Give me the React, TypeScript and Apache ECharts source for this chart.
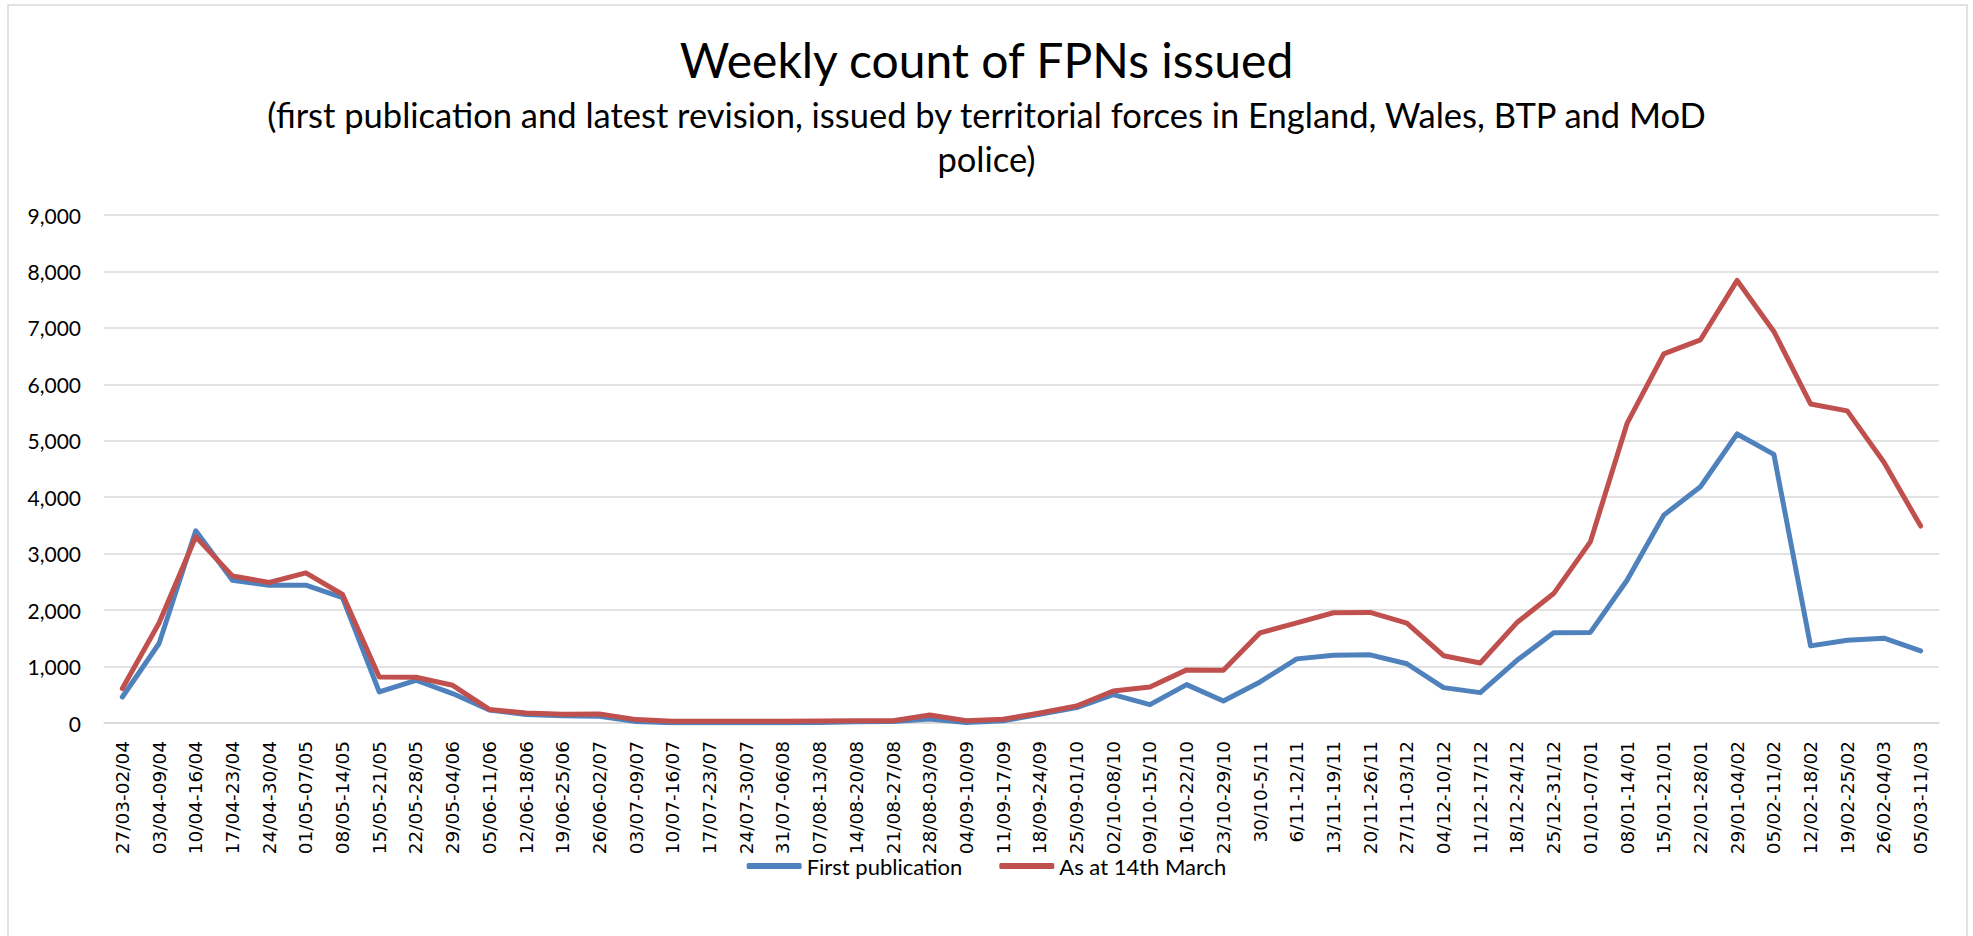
import React, { useEffect, useRef } from "react";
import * as echarts from "echarts";

const categories = [
  "27/03-02/04", "03/04-09/04", "10/04-16/04", "17/04-23/04", "24/04-30/04",
  "01/05-07/05", "08/05-14/05", "15/05-21/05", "22/05-28/05", "29/05-04/06",
  "05/06-11/06", "12/06-18/06", "19/06-25/06", "26/06-02/07", "03/07-09/07",
  "10/07-16/07", "17/07-23/07", "24/07-30/07", "31/07-06/08", "07/08-13/08",
  "14/08-20/08", "21/08-27/08", "28/08-03/09", "04/09-10/09", "11/09-17/09",
  "18/09-24/09", "25/09-01/10", "02/10-08/10", "09/10-15/10", "16/10-22/10",
  "23/10-29/10", "30/10-5/11", "6/11-12/11", "13/11-19/11", "20/11-26/11",
  "27/11-03/12", "04/12-10/12", "11/12-17/12", "18/12-24/12", "25/12-31/12",
  "01/01-07/01", "08/01-14/01", "15/01-21/01", "22/01-28/01", "29/01-04/02",
  "05/02-11/02", "12/02-18/02", "19/02-25/02", "26/02-04/03", "05/03-11/03",
];

const firstPublication = [
  461, 1408, 3404, 2530, 2441, 2441, 2223, 550, 757, 521,
  230, 150, 130, 120, 25, 5, 5, 5, 5, 10,
  20, 25, 70, 10, 40, 154, 272, 503, 325, 680,
  390, 728, 1136, 1201, 1207, 1050, 627, 538, 1111, 1598,
  1605, 2530, 3683, 4185, 5121, 4760, 1366, 1467, 1502, 1277,
];

const asAt14thMarch = [
  610, 1773, 3298, 2606, 2489, 2660, 2277, 816, 810, 668,
  240, 177, 154, 160, 60, 30, 30, 30, 30, 35,
  40, 40, 142, 40, 65, 178, 302, 568, 639, 941,
  935, 1598, 1775, 1953, 1959, 1770, 1192, 1064, 1779, 2293,
  3209, 5307, 6540, 6789, 7841, 6937, 5653, 5529, 4619, 3489,
];

const seriesNames = ["First publication", "As at 14th March"];
const titleText = "Weekly count of FPNs issued";
const subtitleText =
  "(first publication and latest revision, issued by territorial forces in England, Wales, BTP and MoD\npolice)";

export default function App() {
  const ref = useRef<HTMLDivElement>(null);
  useEffect(() => {
    if (!ref.current) return;
    const chart = echarts.init(ref.current, null, { renderer: "svg" });
    const font = "Lato, 'Open Sans', sans-serif";
    chart.setOption({
      animation: false,
      backgroundColor: "#ffffff",
      title: [
        {
          text: titleText,
          left: "center",
          top: 35,
          padding: 0,
          textStyle: { fontFamily: font, fontSize: 48, fontWeight: "normal", color: "#000000" },
        },
        {
          text: subtitleText,
          left: "center",
          top: 92,
          padding: 0,
          textStyle: {
            fontFamily: font,
            fontSize: 34.5,
            fontWeight: "normal",
            color: "#000000",
            lineHeight: 44,
            align: "center",
          },
        },
      ],
      graphic: [
        {
          type: "rect",
          shape: { x: 8, y: 5, width: 1959, height: 940 },
          style: { fill: "none", stroke: "#d9d9d9", lineWidth: 1.5 },
          silent: true,
        },
      ],
      legend: {
        data: seriesNames,
        left: "center",
        top: 850,
        itemWidth: 55,
        itemHeight: 6,
        itemGap: 37,
        icon: "roundRect",
        textStyle: { fontFamily: font, fontSize: 22, color: "#000000" },
      },
      grid: { left: 104, right: 34, top: 215, bottom: 213 },
      xAxis: {
        type: "category",
        data: categories,
        boundaryGap: true,
        axisLine: { show: true, lineStyle: { color: "#d9d9d9", width: 1.5 } },
        axisTick: { show: false },
        axisLabel: {
          interval: 0,
          rotate: 90,
          margin: 18,
          fontFamily: "'DejaVu Sans', Verdana, sans-serif",
          fontSize: 18.5,
          color: "#000000",
        },
      },
      yAxis: {
        type: "value",
        min: 0,
        max: 9000,
        interval: 1000,
        axisLine: { show: false },
        axisTick: { show: false },
        splitLine: { lineStyle: { color: "#d9d9d9", width: 1.5 } },
        axisLabel: {
          margin: 23,
          fontFamily: font,
          fontSize: 21,
          color: "#000000",
          formatter: (v: number) => v.toLocaleString("en-US"),
        },
      },
      series: [
        {
          name: seriesNames[0],
          type: "line",
          data: firstPublication,
          symbol: "none",
          itemStyle: { color: "#4F81BD" },
          lineStyle: { color: "#4F81BD", width: 5, cap: "round", join: "round" },
        },
        {
          name: seriesNames[1],
          type: "line",
          data: asAt14thMarch,
          symbol: "none",
          itemStyle: { color: "#C0504D" },
          lineStyle: { color: "#C0504D", width: 5, cap: "round", join: "round" },
        },
      ],
    });
    return () => chart.dispose();
  }, []);
  return (
    <div
      ref={ref}
      style={{ position: "fixed", left: 0, top: 0, width: "1973px", height: "936px" }}
    />
  );
}
